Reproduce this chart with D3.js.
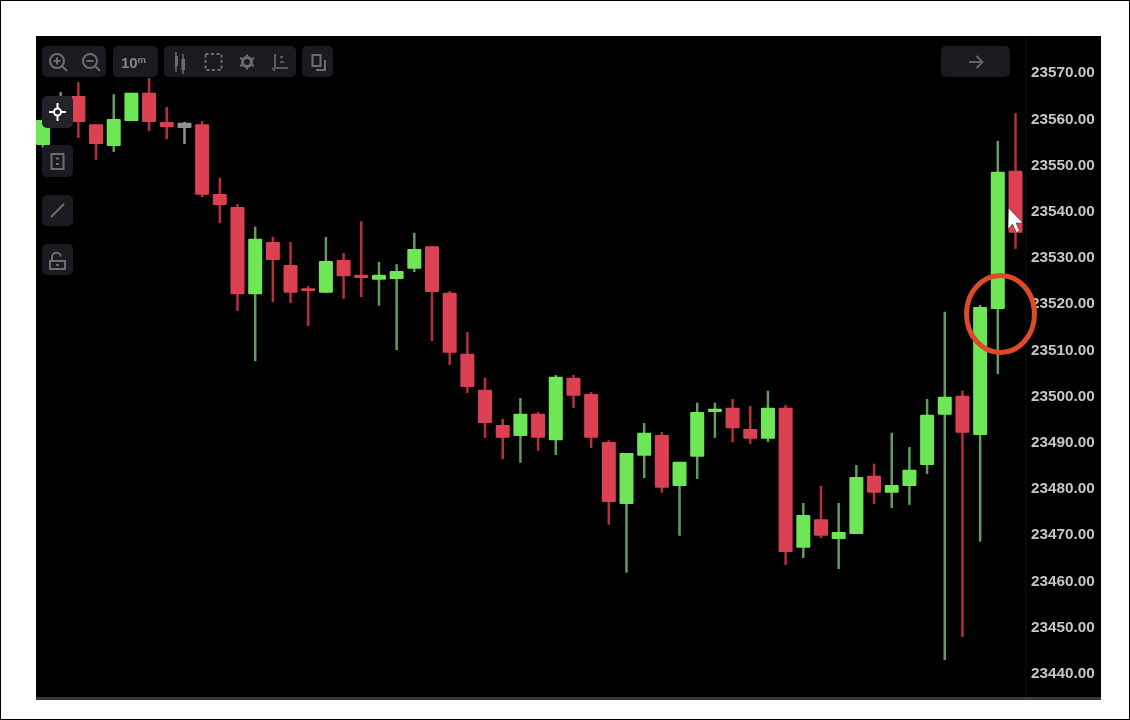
<!DOCTYPE html>
<html><head><meta charset="utf-8">
<script src="https://cdn.jsdelivr.net/npm/d3@7/dist/d3.min.js"></script>
<style>html,body{margin:0;padding:0;background:#fff}svg{display:block}</style>
</head><body><svg id="c" width="1130" height="720"></svg>
<script>
const priceTicks=[23570,23560,23550,23540,23530,23520,23510,23500,23490,23480,23470,23460,23450,23440];
const highs=[23560.0,23565.7,23567.8,23558.7,23565.2,23565.5,23568.7,23562.4,23559.2,23559.4,23547.1,23541.4,23536.5,23534.3,23533.2,23523.7,23534.3,23530.8,23537.7,23528.9,23528.4,23535.2,23532.3,23522.6,23513.7,23503.8,23494.9,23499.4,23496.4,23504.4,23504.4,23500.7,23490.3,23487.5,23494.0,23492.1,23485.6,23498.4,23498.4,23499.2,23497.7,23501.0,23497.9,23476.7,23480.4,23476.7,23484.9,23485.2,23491.9,23488.8,23499.2,23518.1,23501.0,23519.6,23555.1,23561.1];
const lows=[23553.5,23559.2,23555.7,23551.0,23552.7,23559.4,23557.2,23555.5,23554.4,23542.9,23537.3,23518.3,23507.4,23520.2,23520.0,23515.0,23522.2,23520.9,23521.3,23519.4,23509.8,23526.7,23511.8,23506.6,23500.5,23490.8,23486.2,23485.4,23488.0,23487.1,23497.3,23488.6,23472.0,23461.6,23482.1,23478.9,23469.6,23481.9,23490.8,23489.9,23489.5,23489.9,23463.3,23464.8,23469.1,23462.4,23470.0,23476.5,23475.6,23476.3,23483.0,23442.7,23447.7,23468.3,23504.6,23531.7];
const opens=[23554.2,23559.6,23564.8,23558.7,23554.0,23559.4,23565.5,23559.2,23559.0,23558.7,23543.6,23540.8,23521.9,23533.2,23528.2,23523.2,23522.2,23529.3,23526.1,23525.0,23525.2,23527.4,23532.3,23522.2,23509.0,23501.2,23493.6,23491.2,23496.0,23490.3,23503.8,23500.3,23489.9,23476.5,23486.9,23491.4,23480.4,23486.7,23496.4,23497.3,23492.7,23490.6,23497.3,23467.0,23473.2,23468.9,23470.0,23482.6,23478.9,23480.4,23484.9,23495.8,23499.9,23491.4,23518.7,23548.6];
const closes=[23559.6,23564.8,23559.2,23554.4,23559.8,23565.5,23559.2,23558.1,23557.9,23543.4,23541.2,23521.9,23533.9,23529.3,23522.2,23522.6,23529.1,23525.8,23525.4,23526.1,23526.9,23531.7,23522.4,23509.2,23501.8,23494.0,23490.8,23496.0,23490.8,23504.0,23499.9,23490.8,23476.9,23487.5,23491.9,23480.0,23485.6,23496.4,23497.1,23492.9,23490.6,23497.3,23466.1,23474.1,23469.6,23470.4,23482.3,23478.9,23480.6,23483.9,23495.8,23499.7,23491.9,23519.1,23548.4,23535.2];
const mutedCandles=[8];
const colors={upBody:"#6fe655",upWick:"#5f9c5e",downBody:"#dc4053",downWick:"#b5303c",muted:"#8f9390"};

const svg=d3.select("#c");
const x=d3.scaleLinear().domain([0,opens.length-1]).range([43,1015.5]);
const y=d3.scaleLinear().domain([23440,23570]).range([672.5,72]);

svg.append("rect").attr("x",.5).attr("y",.5).attr("width",1129).attr("height",719).attr("fill","#fff").attr("stroke","#000");
svg.append("defs").append("clipPath").attr("id","plot").append("rect").attr("x",36).attr("y",36).attr("width",990).attr("height",661);
svg.append("rect").attr("x",36).attr("y",36).attr("width",1065).attr("height",664).attr("fill","#000");
svg.append("rect").attr("x",36).attr("y",697).attr("width",1065).attr("height",3).attr("fill","#3a3a3a");
svg.append("line").attr("x1",1026).attr("x2",1026).attr("y1",36).attr("y2",697).attr("stroke","#131313");

const soft=svg.append("g").style("filter","blur(0.6px)");
const plot=soft.append("g").attr("clip-path","url(#plot)");
const idx=d3.range(opens.length);
const isUp=i=>closes[i]>=opens[i];
plot.selectAll("line.w").data(idx).join("line").attr("class","w")
  .attr("x1",i=>x(i)).attr("x2",i=>x(i)).attr("y1",i=>y(highs[i])).attr("y2",i=>y(lows[i]))
  .attr("stroke-width",2.5)
  .attr("stroke",i=>mutedCandles.includes(i)?colors.muted:isUp(i)?colors.upWick:colors.downWick);
plot.selectAll("rect.b").data(idx).join("rect").attr("class","b")
  .attr("x",i=>x(i)-7).attr("width",14).attr("rx",1)
  .attr("y",i=>y(Math.max(opens[i],closes[i])))
  .attr("height",i=>Math.max(2.5,Math.abs(y(opens[i])-y(closes[i]))))
  .attr("fill",i=>mutedCandles.includes(i)?colors.muted:isUp(i)?colors.upBody:colors.downBody);

const axis=d3.axisRight(y).tickValues(priceTicks).tickSize(0).tickPadding(0).tickFormat(d3.format(".2f"));
const ag=soft.append("g").attr("transform","translate(1031,0)").call(axis);
ag.select(".domain").remove();
ag.selectAll("text").attr("fill","#c6c6c6").attr("font-family","'Liberation Sans',Arial,sans-serif")
  .attr("font-size",15.3).attr("font-weight",700);

// toolbar
const btn="#1a1a20", ic="#6c6c72";
const btns=[[42,46,64,31],[113,46,45,31],[164,46,132,31],[302,46,31,31],[941,46,69,31],[42,145,31,32],[42,195,31,31],[42,244,31,31]];
const tb=soft.append("g");
tb.selectAll("rect.t").data(btns).join("rect").attr("class","t")
  .attr("x",d=>d[0]).attr("y",d=>d[1]).attr("width",d=>d[2]).attr("height",d=>d[3]).attr("rx",5).attr("fill",btn);
tb.append("rect").attr("x",42).attr("y",96).attr("width",31).attr("height",32).attr("rx",5).attr("fill","#222228");
tb.append("text").attr("x",121).attr("y",68).attr("fill","#85858a").attr("font-family","'Liberation Sans',Arial,sans-serif")
  .attr("font-size",15).attr("font-weight",700).text("10");
tb.append("text").attr("x",137.500).attr("y",63).attr("fill","#85858a").attr("font-family","'Liberation Sans',Arial,sans-serif")
  .attr("font-size",9.500).attr("font-weight",700).text("m");
const s=tb.append("g").attr("fill","none").attr("stroke",ic).attr("stroke-width",2);
// zoom in / out
s.append("circle").attr("cx",57).attr("cy",61).attr("r",7);
s.append("path").attr("d","M62 66l5 5M53.5 61h7M57 57.500v7");
s.append("circle").attr("cx",90).attr("cy",61).attr("r",7);
s.append("path").attr("d","M95 66l5 5M86.500 61h7");
// candles icon
s.append("path").attr("d","M176 52v20M183 54v20").attr("stroke-width",1.5);
s.append("rect").attr("x",175).attr("y",56).attr("width",3).attr("height",10).attr("fill",ic).attr("stroke","none");
s.append("rect").attr("x",181.500).attr("y",59).attr("width",3.500).attr("height",11).attr("fill",ic).attr("stroke","none");
// selection
s.append("rect").attr("x",205.500).attr("y",54).attr("width",16).attr("height",16).attr("stroke-dasharray","3 2.500");
// gear
s.append("circle").attr("cx",247).attr("cy",62).attr("r",4.500).attr("stroke-width",3);
s.append("path").attr("d","M247 54.500v2M247 67.500v2M240 58l2 1M252 65l2 1M240 66l2-1M252 59l2-1");
// axis icon
s.append("path").attr("d","M275 54v14h13M272 68l3 3M280 62h4M280 57h3").attr("stroke-width",1.6);
// layers
s.append("rect").attr("x",312.500).attr("y",55).attr("width",8).attr("height",11);
s.append("path").attr("d","M325 60v10h-9");
// arrow
s.append("path").attr("d","M969 62h13M976.500 56l6 6-6 6").attr("stroke","#62626a");
// side icons
s.append("rect").attr("x",51.500).attr("y",154).attr("width",12).attr("height",15);
s.append("path").attr("d","M56 158.500h3M56 164h3");
s.append("path").attr("d","M51 217l13-13");
s.append("rect").attr("x",50).attr("y",261).attr("width",15).attr("height",8);
s.append("path").attr("d","M52 261v-3a4.500 4.500 0 0 1 9 -1.500M56 265h3");
// crosshair
const ch=tb.append("g").attr("stroke","#fff").attr("fill","none");
ch.append("circle").attr("cx",57.500).attr("cy",112).attr("r",3.500).attr("stroke-width",2);
ch.append("path").attr("d","M57.500 103v5M57.500 116v5M49 112h5M61 112h5").attr("stroke-width",2);

// annotation
soft.append("ellipse").attr("cx",1000.500).attr("cy",314).attr("rx",34).attr("ry",38.500)
  .attr("fill","none").attr("stroke","#dc4a2a").attr("stroke-width",5);
// pointer
soft.append("path").attr("d","M1008.500 208l14.500 15h-7l3.500 8-3 1.500-4-8.500-4.500 5z").attr("fill","#fff").attr("stroke","#222").attr("stroke-width",.5);
</script></body></html>
